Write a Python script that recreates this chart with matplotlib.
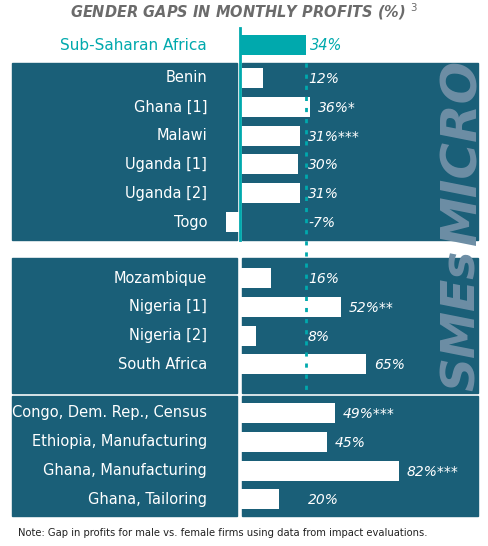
import matplotlib
matplotlib.use("Agg")
import matplotlib.pyplot as plt
from matplotlib.patches import Rectangle

micro_labels = ["Benin", "Ghana [1]", "Malawi", "Uganda [1]", "Uganda [2]", "Togo"]
micro_values = [12, 36, 31, 30, 31, -7]
micro_tags = ["12%", "36%*", "31%***", "30%", "31%", "-7%"]
sme_labels = ["Mozambique", "Nigeria [1]", "Nigeria [2]", "South Africa"]
sme_values = [16, 52, 8, 65]
sme_tags = ["16%", "52%**", "8%", "65%"]
census_labels = ["Congo, Dem. Rep., Census", "Ethiopia, Manufacturing", "Ghana, Manufacturing", "Ghana, Tailoring"]
census_values = [49, 45, 82, 20]
census_tags = ["49%***", "45%", "82%***", "20%"]
ssa_label, ssa_value, ssa_tag = "Sub-Saharan Africa", 34, "34%"

W, H = 488, 546
fig = plt.figure(figsize=(W/100, H/100), dpi=100)
ax = fig.add_axes([0, 0, 1, 1])
scale = 1.94
x0 = 240
ax.set_xlim(-x0/scale, (W-x0)/scale)
ax.set_ylim(H, 0)
ax.axis("off")
px = lambda p: (p - x0)/scale

BG = "#1a5f78"; TEAL = "#00a9ad"; WM = "#6d8ea5"
panels = [(63, 240, 78, micro_labels, micro_values, micro_tags, "MICRO"),
          (258, 393, 278, sme_labels, sme_values, sme_tags, "SMEs"),
          (396, 516, 413, census_labels, census_values, census_tags, None)]
step = 28.8
bh = 20
for top, bot, first, labs, vals, tags, wm in panels:
    ax.add_patch(Rectangle((px(12), top), px(237)-px(12), bot-top, color=BG, zorder=0))
    ax.add_patch(Rectangle((px(242), top), px(478)-px(242), bot-top, color=BG, zorder=0))
    ys = [first + i*step for i in range(len(vals))]
    ax.barh(ys, vals, height=bh, color="white", zorder=2)
    for y, l, v, t in zip(ys, labs, vals, tags):
        ax.text(px(207), y, l, ha="right", va="center", color="white", fontsize=10.5, zorder=3)
        tx = ssa_value + 1 if v < ssa_value else v + 4
        ax.text(tx, y+1, t, ha="left", va="center", color="white", fontsize=10, style="italic", zorder=3)
    if wm:
        ax.text(px(462), (top+bot)/2 if wm == "MICRO" else (top+bot)/2 - 5, wm, rotation=90,
                ha="center", va="center", color=WM, fontsize=36 if wm == "MICRO" else 34,
                style="italic", fontweight="bold", zorder=1)

ax.barh([45], [ssa_value], height=bh, color=TEAL, zorder=2)
ax.text(px(207), 45, ssa_label, ha="right", va="center", color=TEAL, fontsize=11)
ax.text(ssa_value + 2, 46, ssa_tag, ha="left", va="center", color=TEAL, fontsize=10.5, style="italic")
ax.plot([0, 0], [28, 240], color=TEAL, lw=2, zorder=3)
ax.plot([ssa_value, ssa_value], [63, 395], color=TEAL, lw=2, ls=(0, (1.5, 2.5)), zorder=3)

ax.text(px(244), 12, "GENDER GAPS IN MONTHLY PROFITS (%) $^3$", ha="center", va="center",
        color="#6b6b6b", fontsize=10.5, style="italic", fontweight="bold")
ax.text(px(18), 533, "Note: Gap in profits for male vs. female firms using data from impact evaluations.",
        ha="left", va="center", color="#222222", fontsize=7.2)
fig.savefig("out.png", dpi=100)
